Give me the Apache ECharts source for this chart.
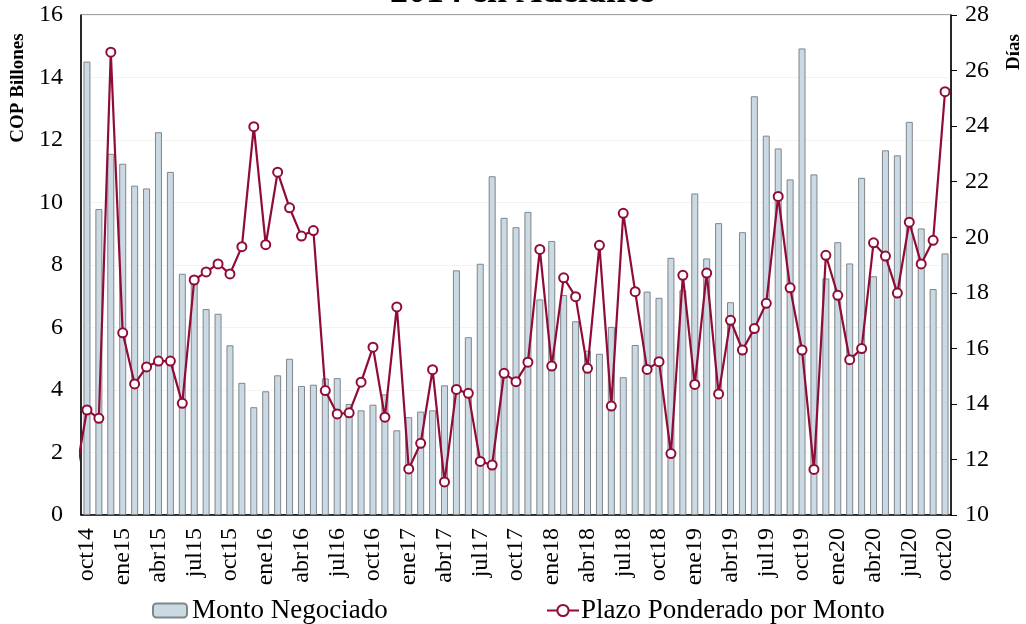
<!DOCTYPE html>
<html>
<head>
<meta charset="utf-8">
<script src="https://cdn.jsdelivr.net/npm/echarts@6/dist/echarts.min.js"></script>
<style>
html,body{margin:0;padding:0;background:#fff;}
#chart{width:1026px;height:624px;}
</style>
</head>
<body>
<div id="chart"></div>
<script>
const meses = ['ene','feb','mar','abr','may','jun','jul','ago','sep','oct','nov','dic'];
// months oct14 .. oct20
const categories = [];
for (let y = 14, m = 9; !(y === 20 && m > 9); ) {
  categories.push(meses[m] + y);
  m++; if (m === 12) { m = 0; y++; }
}
const montoNegociado = [
  14.51, 9.79, 11.56, 11.24, 10.54, 10.45, 12.25, 10.98, 7.72, 7.65, 6.59, 6.44,
  5.43, 4.23, 3.45, 3.96, 4.47, 5.00, 4.13, 4.17, 4.37, 4.38, 3.55, 3.35,
  3.53, 3.86, 2.71, 3.13, 3.31, 3.35, 4.15, 7.83, 5.69, 8.04, 10.84, 9.51,
  9.21, 9.70, 6.90, 8.77, 7.04, 6.20, 5.26, 5.16, 6.02, 4.41, 5.44, 7.15,
  6.95, 8.23, 7.19, 10.29, 8.21, 9.34, 6.81, 9.05, 13.40, 12.14, 11.73, 10.74,
  14.93, 10.90, 7.57, 8.73, 8.05, 10.79, 7.64, 11.67, 11.51, 12.58, 9.17, 7.23,
  8.37
];
const plazoPonderado = [
  13.78, 13.48, 26.66, 16.56, 14.72, 15.33, 15.54, 15.54, 14.02, 18.46, 18.75, 19.04,
  18.68, 19.66, 23.98, 19.73, 22.34, 21.06, 20.04, 20.24, 14.48, 13.64, 13.68, 14.78,
  16.04, 13.52, 17.49, 11.66, 12.58, 15.23, 11.19, 14.52, 14.38, 11.93, 11.80, 15.10,
  14.80, 15.50, 19.56, 15.36, 18.54, 17.86, 15.28, 19.71, 13.92, 20.86, 18.04, 15.24,
  15.52, 12.21, 18.63, 14.70, 18.71, 14.36, 17.01, 15.94, 16.71, 17.62, 21.47, 18.18,
  15.94, 11.64, 19.35, 17.91, 15.59, 15.99, 19.80, 19.32, 17.99, 20.54, 19.04, 19.89,
  25.24
];
// value of the month before oct14 (sep14), only its segment is visible at the left edge
const plazoSep14 = 11.3;

const leftTicks = { min: 0, max: 16, interval: 2 };
const rightTicks = { min: 10, max: 28, interval: 2 };

const FONT = 'Liberation Serif';
const RED = '#900c38';

const lineData = [{ value: [-1, plazoSep14], symbol: 'none' }]
  .concat(plazoPonderado.map((v, i) => [i, v]));

const chart = echarts.init(document.getElementById('chart'), null, { renderer: 'canvas' });
chart.setOption({
  animation: false,
  backgroundColor: '#fff',
  textStyle: { fontFamily: FONT, color: '#000' },
  title: {
    text: '2014 en Adelante',
    left: 385,
    top: -30,
    textStyle: { fontFamily: FONT, fontSize: 36, fontWeight: 'bold', color: '#000' }
  },
  grid: {
    left: 81, right: 75, top: 15, bottom: 109,
    show: true, borderColor: '#444', borderWidth: 1, backgroundColor: 'transparent'
  },
  legend: [
    {
      data: ['Monto Negociado'],
      left: 147, top: 592,
      itemWidth: 34, itemHeight: 14, itemGap: 8,
      textStyle: { fontFamily: FONT, fontSize: 27, color: '#000' }
    },
    {
      data: ['Plazo Ponderado por Monto'],
      left: 541, top: 592,
      itemWidth: 32, itemHeight: 14,
      textStyle: { fontFamily: FONT, fontSize: 27, color: '#000', padding: [0, 0, 0, -3] }
    }
  ],
  graphic: [
    {
      type: 'text', x: 18, y: 88, rotation: Math.PI / 2,
      style: { text: 'COP Billones', font: 'bold 19px "Liberation Serif"', fill: '#000', align: 'center', verticalAlign: 'middle' }
    },
    {
      type: 'text', x: 1014, y: 52, rotation: Math.PI / 2,
      style: { text: 'Días', font: 'bold 19px "Liberation Serif"', fill: '#000', align: 'center', verticalAlign: 'middle' }
    }
  ],
  xAxis: [
    {
      type: 'category',
      data: categories,
      boundaryGap: true,
      axisLine: { show: true, onZero: false, lineStyle: { color: '#000', width: 1.5 } },
      axisTick: { show: false },
      axisLabel: {
        interval: 2, rotate: 90, margin: 13,
        fontFamily: FONT, fontSize: 24, color: '#000'
      },
      splitLine: { show: false }
    },
    {
      type: 'value',
      min: -0.5, max: categories.length - 0.5,
      show: false,
      axisLine: { onZero: false },
      splitLine: { show: false }
    }
  ],
  yAxis: [
    {
      type: 'value',
      min: leftTicks.min, max: leftTicks.max, interval: leftTicks.interval,
      position: 'left',
      axisLine: { show: true, onZero: false, lineStyle: { color: '#000', width: 1.5 } },
      axisTick: { show: false },
      axisLabel: { fontFamily: FONT, fontSize: 24, color: '#000', margin: 18 },
      splitLine: { show: true, lineStyle: { color: '#f3f3f3', width: 1 } }
    },
    {
      type: 'value',
      min: rightTicks.min, max: rightTicks.max, interval: rightTicks.interval,
      position: 'right',
      axisLine: { show: true, onZero: false, lineStyle: { color: '#000', width: 1.5 } },
      axisTick: { show: true, inside: false, length: 6, lineStyle: { color: '#000' } },
      axisLabel: { fontFamily: FONT, fontSize: 24, color: '#000', margin: 14 },
      splitLine: { show: false }
    }
  ],
  series: [
    {
      name: 'Monto Negociado',
      type: 'bar',
      xAxisIndex: 0, yAxisIndex: 0,
      data: montoNegociado,
      barWidth: 7,
      itemStyle: { color: '#cbd9e3', borderColor: '#7f858a', borderWidth: 1 }
    },
    {
      name: 'Plazo Ponderado por Monto',
      type: 'line',
      xAxisIndex: 1, yAxisIndex: 1,
      data: lineData,
      clip: true,
      symbol: 'circle', symbolSize: 9,
      lineStyle: { color: RED, width: 2.2 },
      itemStyle: { color: '#fff', borderColor: RED, borderWidth: 2 },
      z: 5
    }
  ]
});
</script>
</body>
</html>
